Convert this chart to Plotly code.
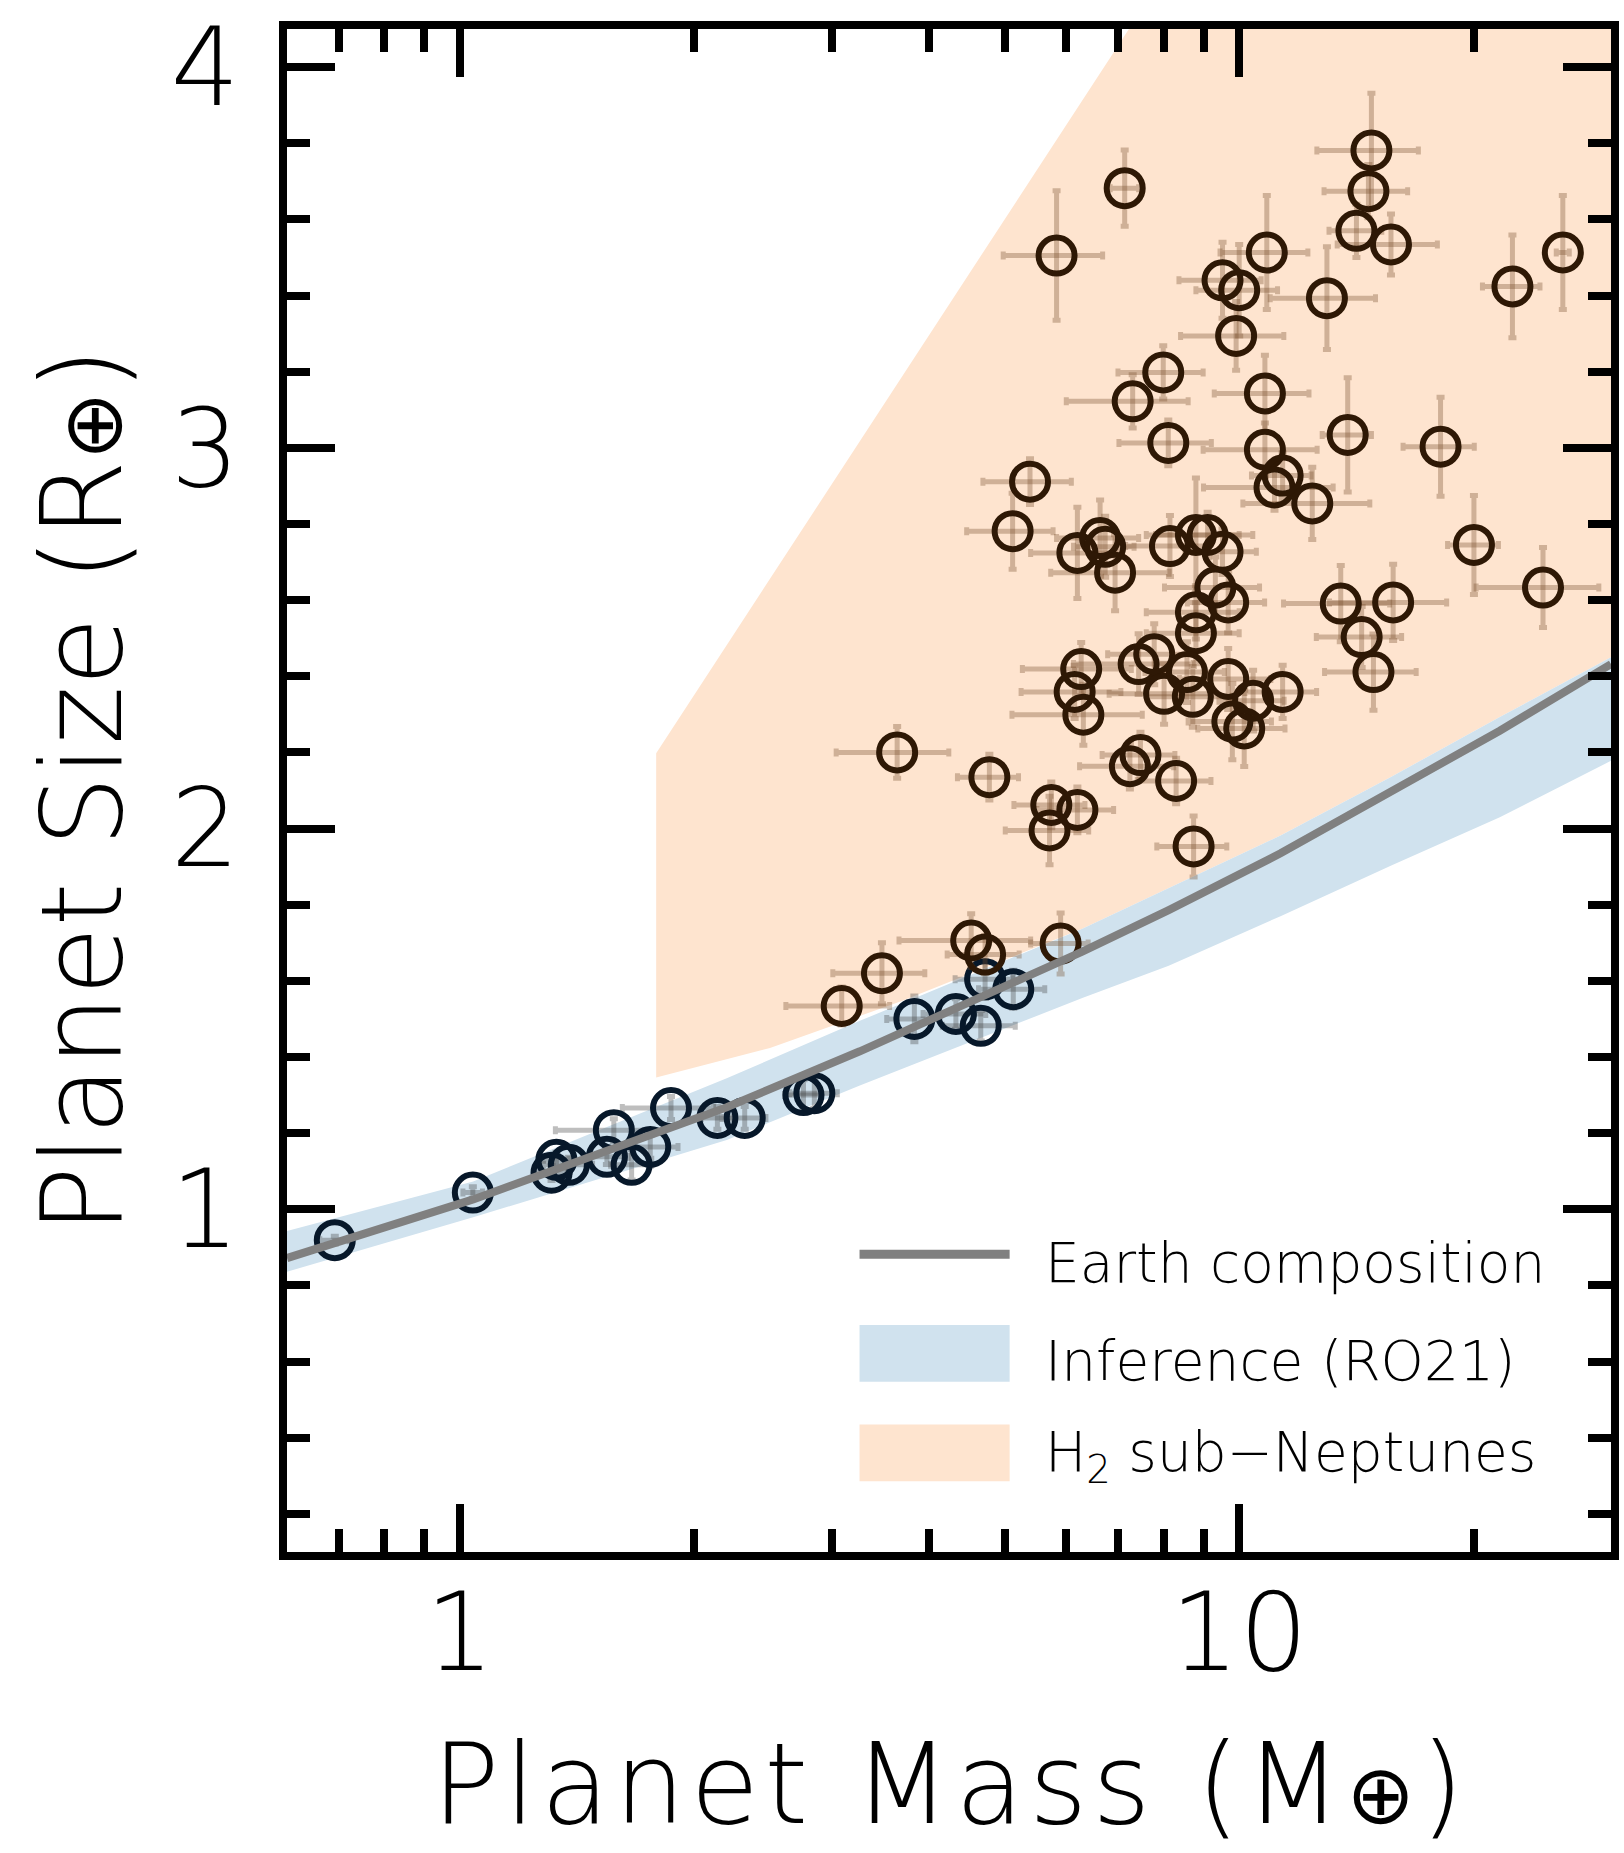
import math
import plotly.graph_objects as go

# ---------------- data ----------------
# rocky planets (blue-edged circles)
rocky_mass = [0.691, 1.039, 1.311, 1.33, 1.38, 1.544, 1.576, 1.661, 1.755, 1.866,
              2.14, 2.32, 2.76, 2.85, 3.83, 4.33, 4.66, 4.72, 5.13]
rocky_radius = [0.919, 1.044, 1.096, 1.13, 1.117, 1.138, 1.208, 1.117, 1.164, 1.266,
                1.24, 1.24, 1.30, 1.305, 1.50, 1.513, 1.482, 1.604, 1.578]
rocky_mass_err = [0.03, 0.03, 0.05, 0.05, 0.1, 0.1, 0.25, 0.1, 0.15, 0.25,
                  0.1, 0.15, 0.15, 0.2, 0.3, 0.4, 0.5, 0.4, 0.5]
rocky_radius_err = [0.01, 0.015, 0.02, 0.02, 0.02, 0.02, 0.03, 0.04, 0.03, 0.03,
                    0.03, 0.03, 0.04, 0.04, 0.06, 0.04, 0.04, 0.05, 0.05]

# sub-Neptunes (brown-edged circles)
subnep_mass = [14.78, 14.65, 14.14, 15.66, 7.13, 5.83, 10.85, 9.52, 10.0, 12.96,
               9.91, 7.99, 7.30, 10.79, 8.11, 10.79, 13.78, 11.1, 11.37, 12.41,
               5.39, 5.12, 6.20, 6.63, 6.73, 6.93, 8.15, 8.80, 9.11, 9.52,
               9.32, 9.68, 8.80, 8.80, 13.50, 15.76, 14.36, 14.87, 6.27, 6.15,
               6.31, 7.43, 7.78, 8.01, 8.57, 8.72, 9.68, 10.42, 11.37, 9.80,
               10.15, 4.78, 7.47, 7.24, 8.30, 5.74, 6.20, 5.71, 8.74, 3.64,
               4.53, 4.72, 5.90, 3.48, 3.09, 22.42, 26.02, 18.13, 20.01, 24.54]
subnep_radius = [3.781, 3.674, 3.570, 3.534, 3.682, 3.505, 3.513, 3.440, 3.414, 3.393,
                 3.294, 3.198, 3.122, 3.143, 3.013, 2.995, 3.034, 2.896, 2.927, 2.854,
                 2.911, 2.781, 2.724, 2.763, 2.740, 2.672, 2.742, 2.771, 2.771, 2.727,
                 2.633, 2.594, 2.568, 2.513, 2.591, 2.594, 2.503, 2.411, 2.419, 2.359,
                 2.299, 2.432, 2.458, 2.354, 2.411, 2.346, 2.393, 2.336, 2.359, 2.281,
                 2.263, 2.135, 2.193, 2.164, 2.125, 2.062, 2.049, 1.995, 1.953, 2.200,
                 1.706, 1.669, 1.698, 1.620, 1.534, 3.424, 3.513, 3.003, 2.745, 2.633]
subnep_mass_err = [2.2, 1.8, 1.1, 2.3, 0.3, 0.85, 1.4, 1.15, 1.2, 2.0,
                   1.5, 1.0, 1.3, 1.5, 1.1, 1.8, 1.0, 2.1, 1.0, 2.3,
                   0.7, 0.65, 0.8, 0.8, 0.6, 1.2, 1.0, 1.2, 1.3, 1.0,
                   1.3, 1.1, 1.2, 1.2, 2.1, 2.7, 1.8, 2.0, 1.0, 0.9,
                   1.2, 1.3, 1.0, 1.2, 1.0, 1.1, 1.3, 1.0, 1.2, 1.2,
                   1.3, 0.43, 0.8, 1.0, 0.9, 0.6, 0.7, 0.7, 0.9, 0.6,
                   0.87, 0.5, 0.5, 0.47, 0.47, 1.9, 0.5, 1.9, 1.5, 4.4]
subnep_radius_err = [0.15, 0.07, 0.07, 0.08, 0.1, 0.17, 0.15, 0.1, 0.12, 0.135,
                     0.09, 0.07, 0.07, 0.1, 0.06, 0.07, 0.15, 0.06, 0.06, 0.095,
                     0.06, 0.1, 0.12, 0.1, 0.08, 0.1, 0.08, 0.15, 0.06, 0.06,
                     0.08, 0.08, 0.07, 0.08, 0.1, 0.1, 0.08, 0.1, 0.07, 0.07,
                     0.08, 0.08, 0.08, 0.08, 0.08, 0.08, 0.08, 0.08, 0.07, 0.1,
                     0.1, 0.06, 0.06, 0.06, 0.06, 0.06, 0.06, 0.09, 0.08, 0.068,
                     0.07, 0.05, 0.08, 0.08, 0.05, 0.135, 0.15, 0.13, 0.13, 0.105]

# Earth-composition curve
earth_mass = [0.6, 1.04, 2.2, 3.26, 6.29, 8.12, 11.3, 15.7, 21.6, 30.0]
earth_radius = [0.872, 1.026, 1.268, 1.415, 1.677, 1.786, 1.935, 2.097, 2.257, 2.432]

# RO21 inference band
band_mass = [0.6, 1.04, 2.2, 3.26, 6.29, 8.12, 11.3, 15.7, 21.6, 30.0]
band_upper = [0.943, 1.073, 1.344, 1.495, 1.737, 1.844, 1.982, 2.137, 2.293, 2.45]
band_lower = [0.836, 0.979, 1.182, 1.325, 1.555, 1.64, 1.77, 1.904, 2.03, 2.178]

# H2 sub-Neptune region
h2_upper_mass = [1.786, 7.22, 30.0]
h2_upper_radius = [2.198, 4.1, 4.1]
h2_lower_mass = [1.786, 2.5, 3.69, 6.29, 8.12, 11.3, 15.7, 21.6, 30.0]
h2_lower_radius = [1.346, 1.424, 1.547, 1.737, 1.844, 1.982, 2.137, 2.293, 2.45]

# axes
x_range = [0.6, 30.0]
y_range = [0.1, 4.1]
x_major = [1, 10]
x_major_text = ["1", "10"]
x_minor = [0.7, 0.8, 0.9, 2, 3, 4, 5, 6, 7, 8, 9, 20]
y_major = [1, 2, 3, 4]
y_major_text = ["1", "2", "3", "4"]
y_minor = [0.2, 0.4, 0.6, 0.8, 1.2, 1.4, 1.6, 1.8, 2.2, 2.4, 2.6, 2.8, 3.2, 3.4, 3.6, 3.8]

EARTH_SYM = "<span style=\"font-size:82px;font-weight:normal\">\u2295</span>"
x_title = "<span style=\"letter-spacing:5px\">Planet Mass (M" + EARTH_SYM + ")</span>"
y_title = "Planet Size (R" + EARTH_SYM + ")"
legend_labels = ["Earth composition", "Inference (RO21)", "H<sub>2</sub> sub\u2212Neptunes"]

# ---------------- styles ----------------
FONT = "DejaVu Sans"
FW = 200
BLUE_FILL = "#d0e2ee"
ORANGE_FILL = "#fee4cf"
EARTH_GRAY = "#808080"
ROCKY_EDGE = "#07182a"
SUBNEP_EDGE = "#2e1805"

W, H = 1624, 1853
ML, MR, MT, MB = 287, 5, 22, 301

fig = go.Figure()

# H2 region
fig.add_trace(go.Scatter(
    x=h2_upper_mass + h2_lower_mass[::-1],
    y=h2_upper_radius + h2_lower_radius[::-1],
    fill="toself", fillcolor=ORANGE_FILL, mode="lines",
    line=dict(width=0, color=ORANGE_FILL), hoverinfo="skip", showlegend=False))

# inference band
fig.add_trace(go.Scatter(
    x=band_mass + band_mass[::-1],
    y=band_upper + band_lower[::-1],
    fill="toself", fillcolor=BLUE_FILL, mode="lines",
    line=dict(width=0, color=BLUE_FILL), hoverinfo="skip", showlegend=False))

# data points
fig.add_trace(go.Scatter(
    x=rocky_mass, y=rocky_radius, mode="markers",
    error_x=dict(type="data", array=rocky_mass_err, color="rgba(70,70,70,0.35)",
                 thickness=5, width=4),
    error_y=dict(type="data", array=rocky_radius_err, color="rgba(70,70,70,0.35)",
                 thickness=5, width=4),
    marker=dict(symbol="circle-open", size=36, color=ROCKY_EDGE,
                line=dict(width=6, color=ROCKY_EDGE)),
    showlegend=False))

fig.add_trace(go.Scatter(
    x=subnep_mass, y=subnep_radius, mode="markers",
    error_x=dict(type="data", array=subnep_mass_err, color="rgba(120,80,45,0.35)",
                 thickness=5, width=4),
    error_y=dict(type="data", array=subnep_radius_err, color="rgba(120,80,45,0.35)",
                 thickness=5, width=4),
    marker=dict(symbol="circle-open", size=36, color=SUBNEP_EDGE,
                line=dict(width=6, color=SUBNEP_EDGE)),
    showlegend=False))

# Earth composition line
fig.add_trace(go.Scatter(
    x=earth_mass, y=earth_radius, mode="lines",
    line=dict(color=EARTH_GRAY, width=8), showlegend=False))

axis_common = dict(
    showline=True, linewidth=8, linecolor="black", mirror="ticks",
    ticks="inside", tickwidth=8, tickcolor="black", ticklen=48,
    showgrid=False, zeroline=False, ticklabeloverflow="allow",
    tickfont=dict(family=FONT, size=108, color="black", weight=FW),
)

fig.update_xaxes(
    type="log", range=[math.log10(x_range[0]), math.log10(x_range[1])],
    tickmode="array", tickvals=x_major, ticktext=x_major_text,
    minor=dict(tickmode="array", tickvals=x_minor, ticks="inside",
               ticklen=23, tickwidth=8, tickcolor="black", showgrid=False),
    ticklabelstandoff=-20,
    **axis_common)
fig.update_yaxes(
    range=y_range,
    tickmode="array", tickvals=y_major, ticktext=y_major_text,
    minor=dict(tickmode="array", tickvals=y_minor, ticks="inside",
               ticklen=23, tickwidth=8, tickcolor="black", showgrid=False),
    ticklabelstandoff=18,
    **axis_common)

pw = W - ML - MR
ph = H - MT - MB


def px(xpix):
    return (xpix - ML) / pw


def py(ypix):
    return (H - MB - ypix) / ph


shapes = [
    dict(type="line", xref="paper", yref="paper", x0=px(863), x1=px(1014),
         y0=py(1253), y1=py(1253), line=dict(color=EARTH_GRAY, width=9), layer="above"),
    dict(type="rect", xref="paper", yref="paper", x0=px(863), x1=px(1014),
         y0=py(1381), y1=py(1324), fillcolor=BLUE_FILL, line=dict(width=0), layer="above"),
    dict(type="rect", xref="paper", yref="paper", x0=px(863), x1=px(1014),
         y0=py(1481), y1=py(1424), fillcolor=ORANGE_FILL, line=dict(width=0), layer="above"),
]

legend_font = dict(family=FONT, size=55, color="black", weight=FW)
title_font = dict(family=FONT, size=112, color="black", weight=FW)

annotations = [
    dict(text=legend_labels[0], xref="paper", yref="paper", x=px(1048), y=py(1262),
         xanchor="left", yanchor="middle", showarrow=False, font=legend_font),
    dict(text=legend_labels[1], xref="paper", yref="paper", x=px(1048), y=py(1360),
         xanchor="left", yanchor="middle", showarrow=False, font=legend_font),
    dict(text=legend_labels[2], xref="paper", yref="paper", x=px(1048), y=py(1456),
         xanchor="left", yanchor="middle", showarrow=False, font=legend_font),
    dict(text=x_title, xref="paper", yref="paper",
         x=px(955), y=py(1785), xanchor="center", yanchor="middle", showarrow=False,
         font=title_font),
    dict(text=y_title, xref="paper", yref="paper",
         x=px(80), y=py(787), xanchor="center", yanchor="middle", showarrow=False,
         textangle=-90, font=title_font),
]

fig.update_layout(
    width=W, height=H, autosize=False,
    margin=dict(l=ML, r=MR, t=MT, b=MB, pad=0),
    paper_bgcolor="white", plot_bgcolor="white",
    shapes=shapes, annotations=annotations,
    showlegend=False,
)

fig.write_html("out.html")
